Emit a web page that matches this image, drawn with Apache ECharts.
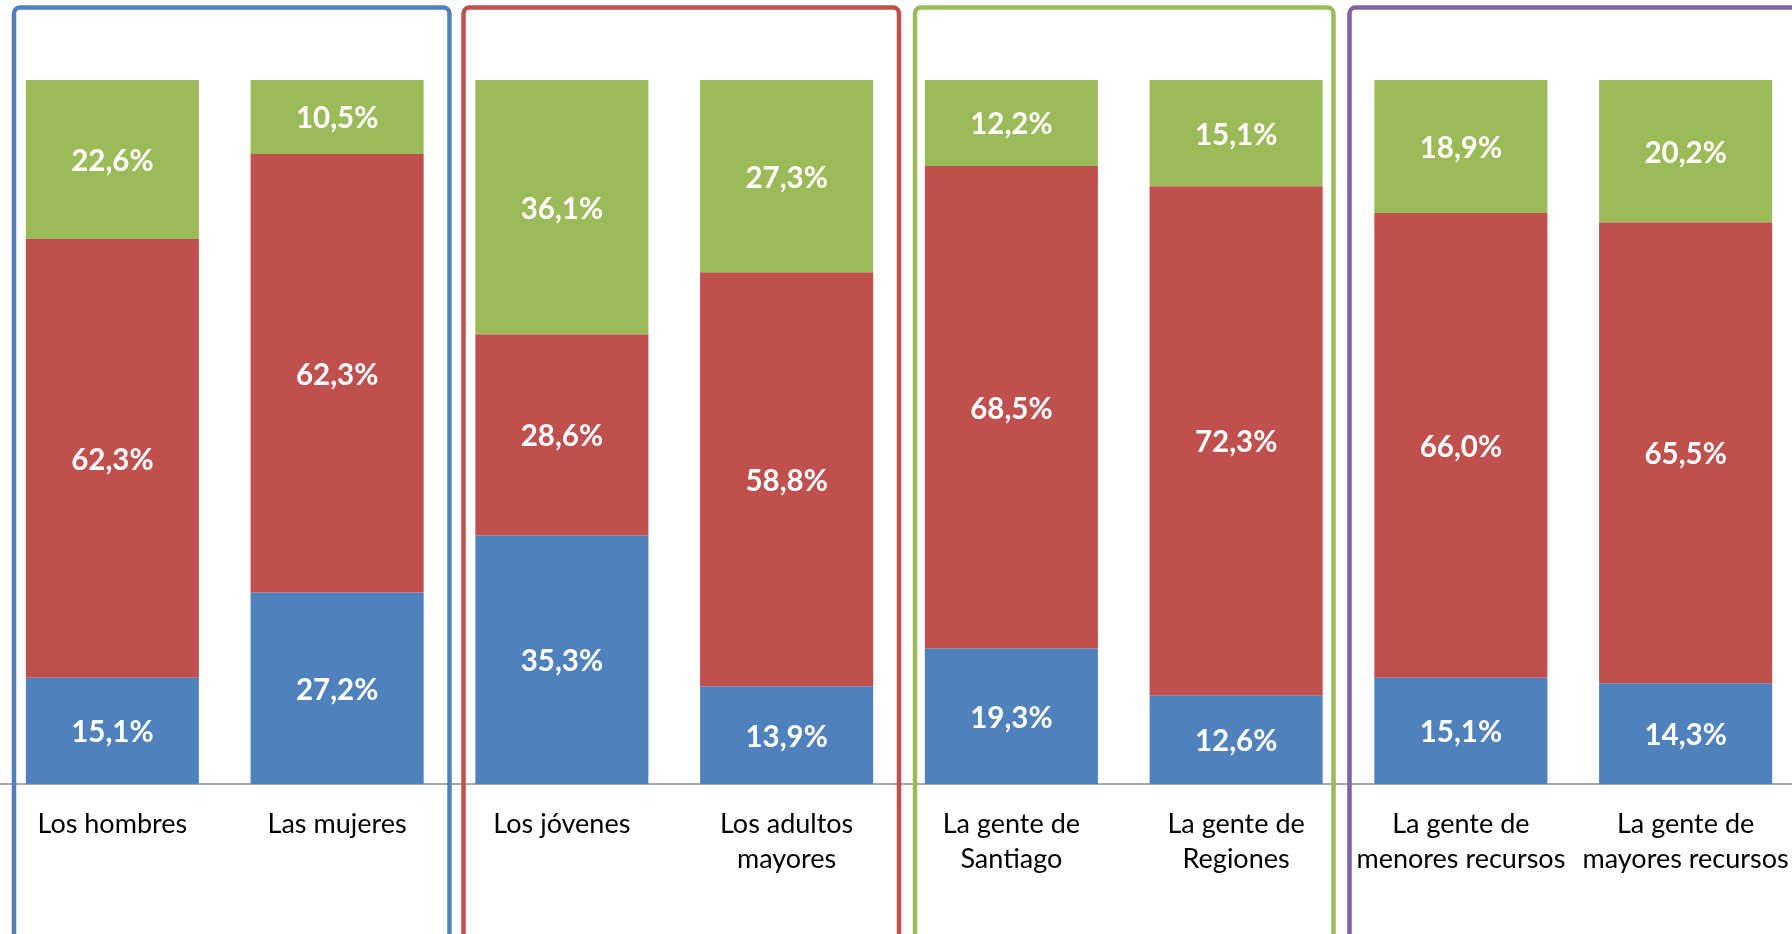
<!DOCTYPE html>
<html>
<head>
<meta charset="utf-8">
<title>Grupos</title>
<script src="https://cdn.jsdelivr.net/npm/echarts@6.0.0/dist/echarts.min.js"></script>
<style>
  html, body { margin: 0; padding: 0; background: #fff; }
  #chart { width: 1792px; height: 934px; }
</style>
</head>
<body>
<div id="chart"></div>
<script>
// categorías (eje x)
const categories = [
  'Los hombres', 'Las mujeres', 'Los jóvenes', 'Los adultos\nmayores',
  'La gente de\nSantiago', 'La gente de\nRegiones',
  'La gente de\nmenores recursos', 'La gente de\nmayores recursos'
];
// series apiladas, de abajo hacia arriba
const serieAzul = [15.1, 27.2, 35.3, 13.9, 19.3, 12.6, 15.1, 14.3];
const serieRoja = [62.3, 62.3, 28.6, 58.8, 68.5, 72.3, 66.0, 65.5];
const serieVerde = [22.6, 10.5, 36.1, 27.3, 12.2, 15.1, 18.9, 20.2];

// marcos de grupos: índices de categoría
const grupos = [
  { desde: 0, hasta: 1, color: '#4F81BD', padL: 14, padR: 0 },
  { desde: 2, hasta: 3, color: '#C0504D', padL: 14, padR: 0 },
  { desde: 4, hasta: 5, color: '#9BBB59', padL: 16, padR: -15 },
  { desde: 6, hasta: 7, color: '#8064A2', padL: 1, padR: 40 }
];

const chart = echarts.init(document.getElementById('chart'));

function fmt(p) {
  return p.value.toFixed(1).replace('.', ',') + '%';
}

const labelStyle = {
  show: true,
  position: 'inside',
  offset: [0, 2],
  color: '#fff',
  fontFamily: 'Lato',
  fontWeight: 'bold',
  fontSize: 29.5,
  formatter: fmt
};

function serie(name, data, color) {
  return {
    type: 'bar',
    name: name,
    stack: 'total',
    barCategoryGap: '23%',
    itemStyle: { color: color },
    label: labelStyle,
    data: data
  };
}

const option = {
  backgroundColor: '#fff',
  animation: false,
  grid: { left: 0, width: 1798, top: 80, bottom: 150, outerBoundsMode: 'none', containLabel: false },
  xAxis: {
    type: 'category',
    data: categories,
    axisTick: { show: false },
    axisLine: { lineStyle: { color: '#8a8a8a', width: 1.5 } },
    axisLabel: {
      color: '#000',
      fontFamily: 'Lato',
      fontSize: 27,
      lineHeight: 35,
      margin: 23,
      interval: 0
    },
    z: 1
  },
  yAxis: {
    type: 'value',
    min: 0,
    max: 100,
    show: false
  },
  series: [
    serie('Azul', serieAzul, '#4F81BD'),
    serie('Roja', serieRoja, '#C0504D'),
    serie('Verde', serieVerde, '#9BBB59')
  ]
};

chart.setOption(option);

// marcos redondeados alrededor de cada par de barras
const c0 = chart.convertToPixel({ xAxisIndex: 0 }, 0);
const c1 = chart.convertToPixel({ xAxisIndex: 0 }, 1);
const banda = c1 - c0;
const marcos = grupos.map(function (g) {
  const izq = chart.convertToPixel({ xAxisIndex: 0 }, g.desde) - banda / 2 + g.padL;
  const der = chart.convertToPixel({ xAxisIndex: 0 }, g.hasta) + banda / 2 + g.padR;
  return {
    type: 'rect',
    z: 100,
    shape: { x: izq, y: 7.5, width: der - izq, height: 1000, r: 6 },
    style: { fill: 'none', stroke: g.color, lineWidth: 4.5 }
  };
});
chart.setOption({ graphic: marcos });
</script>
</body>
</html>
